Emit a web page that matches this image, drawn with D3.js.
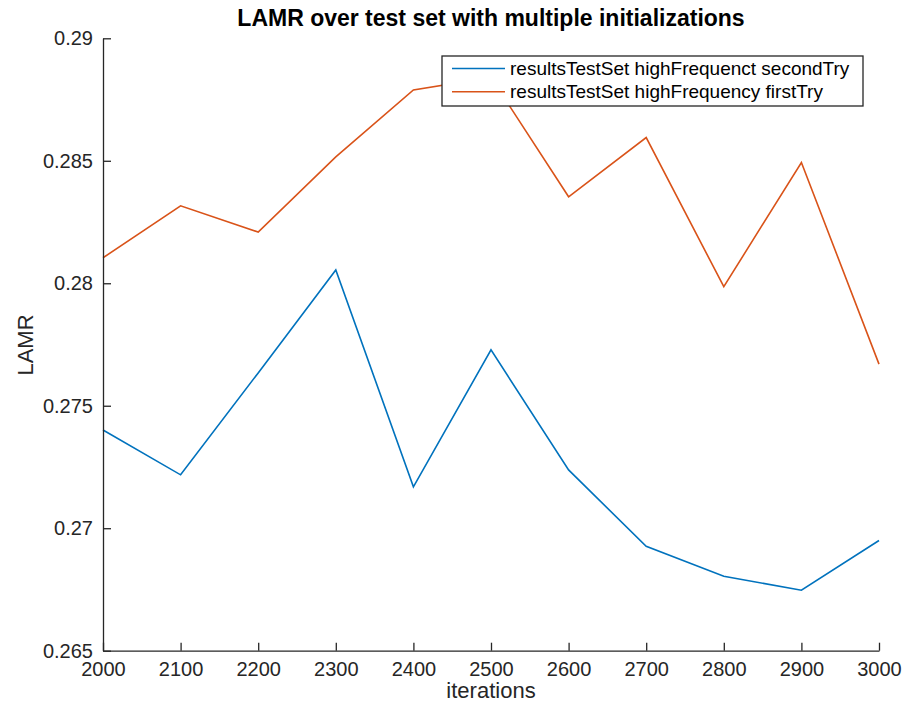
<!DOCTYPE html>
<html><head><meta charset="utf-8">
<script src="https://cdn.jsdelivr.net/npm/d3@7"></script>
<style>body{margin:0;background:#fff}svg{display:block}</style>
</head><body>
<svg id="c" width="905" height="707"></svg>
<script>
const iterations = [2000,2100,2200,2300,2400,2500,2600,2700,2800,2900,3000];
const secondTry = [0.27401,0.27218,0.27634,0.28054,0.27169,0.27728,0.27238,0.26926,0.26804,0.26747,0.26950];
const firstTry  = [0.28104,0.28316,0.28209,0.28516,0.28789,0.28840,0.28353,0.28595,0.27986,0.28493,0.27670];
const xTicks = [2000,2100,2200,2300,2400,2500,2600,2700,2800,2900,3000];
const yTicks = [0.265,0.27,0.275,0.28,0.285,0.29];
const seriesNames = ["resultsTestSet highFrequenct secondTry","resultsTestSet highFrequency firstTry"];
const colors = ["#0072BD","#D95319"];

const svg = d3.select("#c");
const font = "Liberation Sans, Arial, Helvetica, sans-serif";
const L=103, R=879, T=38.3, B=650.7;
const x = d3.scaleLinear().domain([2000,3000]).range([L,R]);
const y = d3.scaleLinear().domain([0.265,0.29]).range([B,T]);
const axCol="#262626";

const line = d3.line().x((d,i)=>x(iterations[i])).y(d=>y(d));
[secondTry, firstTry].forEach((s,k)=>{
  svg.append("path").attr("d",line(s)).attr("fill","none")
    .attr("stroke",colors[k]).attr("stroke-width",1.6).attr("stroke-linejoin","miter");
});

const xAxis = svg.append("g").attr("transform",`translate(0,${B})`)
  .call(d3.axisBottom(x).tickValues(xTicks).tickFormat(d3.format("d")).tickSizeInner(-8).tickSizeOuter(0).tickPadding(11));
const yAxis = svg.append("g").attr("transform",`translate(${L},0)`)
  .call(d3.axisLeft(y).tickValues(yTicks).tickFormat(d=>String(+d.toFixed(3))).tickSizeInner(-8).tickSizeOuter(0).tickPadding(10));
[xAxis,yAxis].forEach(g=>{
  g.select(".domain").attr("stroke",axCol).attr("stroke-width",1.3);
  g.selectAll(".tick line").attr("stroke",axCol).attr("stroke-width",1.3);
  g.selectAll(".tick text").attr("fill",axCol).style("font-family",font).style("font-size","20px");
});

svg.append("text").attr("x",491).attr("y",26).attr("text-anchor","middle")
  .style("font-family",font).style("font-size","23px").style("font-weight","bold").attr("fill","#000")
  .text("LAMR over test set with multiple initializations");
svg.append("text").attr("x",491).attr("y",698).attr("text-anchor","middle")
  .style("font-family",font).style("font-size","22px").attr("fill",axCol).text("iterations");
svg.append("text").attr("transform","translate(33,345) rotate(-90)").attr("text-anchor","middle")
  .style("font-family",font).style("font-size","22px").attr("fill",axCol).text("LAMR");

const lg = svg.append("g");
lg.append("rect").attr("x",442).attr("y",56).attr("width",421).attr("height",50)
  .attr("fill","#fff").attr("stroke",axCol).attr("stroke-width",1.3);
seriesNames.forEach((n,k)=>{
  const yy = 68.5 + k*23.3;
  lg.append("line").attr("x1",452).attr("x2",505).attr("y1",yy).attr("y2",yy)
    .attr("stroke",colors[k]).attr("stroke-width",1.6);
  lg.append("text").attr("x",510).attr("y",yy+6.5).style("font-family",font).style("font-size","19px")
    .attr("fill","#000").text(n);
});
</script>
</body></html>
